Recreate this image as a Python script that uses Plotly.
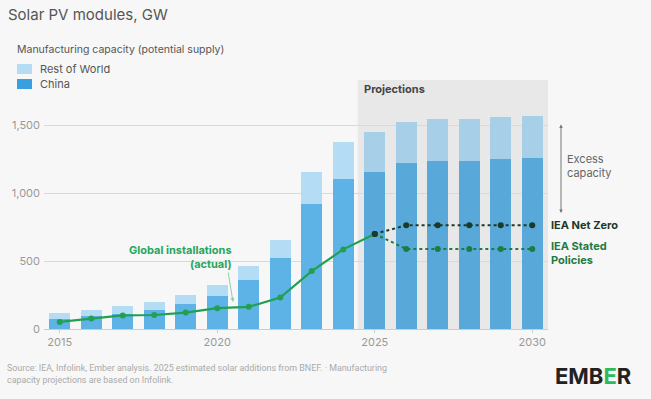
import plotly.graph_objects as go

years = list(range(2015, 2031))
china = [77, 94, 113, 138, 185, 244, 360, 522, 921, 1103, 1158, 1221, 1238, 1238, 1248, 1256]
rest_of_world = [41, 49, 57, 59, 66, 79, 103, 133, 236, 273, 290, 306, 308, 308, 310, 312]

inst_years = list(range(2015, 2026))
installations = [52, 77, 100, 103, 121, 153, 163, 232, 426, 586, 700]

proj_years = list(range(2025, 2031))
iea_net_zero = [700, 763, 763, 763, 763, 763]
iea_stated = [700, 589, 589, 589, 589, 589]

x_ticks = [2015, 2020, 2025, 2030]
y_ticks = [0, 500, 1000, 1500]

FONT = "Inter"
BG = "#f7f7f7"
L, R, T, B = 44, 103, 79, 70
W, H = 651 - L - R, 399 - T - B


def px(x):
    return (x - L) / W


def py(y):
    return (399 - B - y) / H


china_col = ["#5db2e6" if y < 2025 else "#58a8d9" for y in years]
row_col = ["#b4dcf4" if y < 2025 else "#a8cfe8" for y in years]

fig = go.Figure()
fig.add_trace(go.Bar(x=years, y=china, marker=dict(color=china_col, line_width=0), width=0.68, name="China"))
fig.add_trace(go.Bar(x=years, y=rest_of_world, marker=dict(color=row_col, line_width=0), width=0.68, name="Rest of World"))

fig.add_trace(go.Scatter(x=proj_years, y=iea_stated, mode="lines+markers",
                         line=dict(color="#1f7a43", width=2, dash="dot"),
                         marker=dict(size=6, color="#1f7a43")))
fig.add_trace(go.Scatter(x=proj_years, y=iea_net_zero, mode="lines+markers",
                         line=dict(color="#1c3a28", width=2, dash="dot"),
                         marker=dict(size=6, color="#1c3a28")))
mcols = ["#22a052"] * (len(inst_years) - 1) + ["#1c3a28"]
fig.add_trace(go.Scatter(x=inst_years, y=installations, mode="lines+markers",
                         line=dict(color="#22a052", width=2.2),
                         marker=dict(size=6, color=mcols)))

shapes = [
    dict(type="rect", xref="x", yref="paper", x0=2024.46, x1=2030.5, y0=0, y1=py(80),
         fillcolor="#e8e8e8", line_width=0, layer="below"),
    dict(type="rect", xref="paper", yref="paper", x0=px(17), x1=px(32), y0=py(74), y1=py(64),
         fillcolor="#b4dcf4", line_width=0),
    dict(type="rect", xref="paper", yref="paper", x0=px(17), x1=px(32), y0=py(89), y1=py(79),
         fillcolor="#3a9fe0", line_width=0),
]

def txt(x, y, text, size=11, color="#555", xanchor="left", align="left", family=FONT):
    return dict(xref="paper", yref="paper", x=px(x), y=py(y), text=text, showarrow=False,
                xanchor=xanchor, yanchor="middle", align=align,
                font=dict(family=family, size=size, color=color))

annotations = [
    txt(6, 14, "Solar PV modules, GW", size=15, color="#555"),
    txt(15, 50, "Manufacturing capacity (potential supply)", size=10.5, color="#555"),
    txt(38, 69, "Rest of World", size=11, color="#555"),
    txt(38, 84, "China", size=11, color="#555"),
    txt(362, 89, "<b>Projections</b>", size=11, color="#444"),
    txt(565, 166, "Excess<br>capacity", size=11, color="#666"),
    txt(549, 225, "<b>IEA Net Zero</b>", size=11, color="#1c3a28"),
    txt(549, 253, "<b>IEA Stated<br>Policies</b>", size=11, color="#1f7a43"),
    txt(234, 257, "<b>Global installations<br>(actual)</b>", size=11, color="#2aa55a",
        xanchor="right", align="right"),
    txt(5, 374, "Source: IEA, Infolink, Ember analysis. 2025 estimated solar additions from BNEF. · Manufacturing<br>capacity projections are based on Infolink.",
        size=8.9, color="#aaa", family="Roboto"),
    txt(553, 376, "<b>EMB<span style='color:#2dba5a'>E</span>R</b>", size=22, color="#222"),
    dict(xref="paper", yref="paper", x=px(233), y=py(302), ax=228 - 233, ay=271 - 302,
         axref="pixel", ayref="pixel", text="", showarrow=True, arrowhead=2, arrowsize=0.8,
         arrowwidth=1, arrowcolor="#8fd0a6"),
    dict(xref="paper", yref="paper", x=px(561), y=py(213), ax=0, ay=123 - 213,
         axref="pixel", ayref="pixel", text="", showarrow=True, arrowhead=2, arrowsize=0.7,
         arrowwidth=1, arrowcolor="#777", arrowside="end+start"),
]

fig.update_layout(
    width=651, height=399,
    margin=dict(l=L, r=R, t=T, b=B),
    paper_bgcolor=BG, plot_bgcolor=BG,
    barmode="stack", showlegend=False,
    font=dict(family=FONT, size=11, color="#999"),
    shapes=shapes, annotations=annotations,
    xaxis=dict(range=[2014.5, 2030.5], tickvals=x_ticks, ticks="outside", ticklen=3,
               tickcolor="#ccc", showline=True, linecolor="#ccc", showgrid=False,
               tickfont=dict(size=11, color="#999"), zeroline=False),
    yaxis=dict(range=[0, 1840], tickvals=y_ticks, tickformat=",", showgrid=True,
               gridcolor="#d9d9d9", gridwidth=1, zeroline=False, showline=False,
               tickfont=dict(size=11, color="#999"), ticklabelstandoff=3),
)

fig.write_html("out.html", config={"displayModeBar": False},
               post_script="document.body.style.margin='0px';document.body.style.background='#f7f7f7';")
